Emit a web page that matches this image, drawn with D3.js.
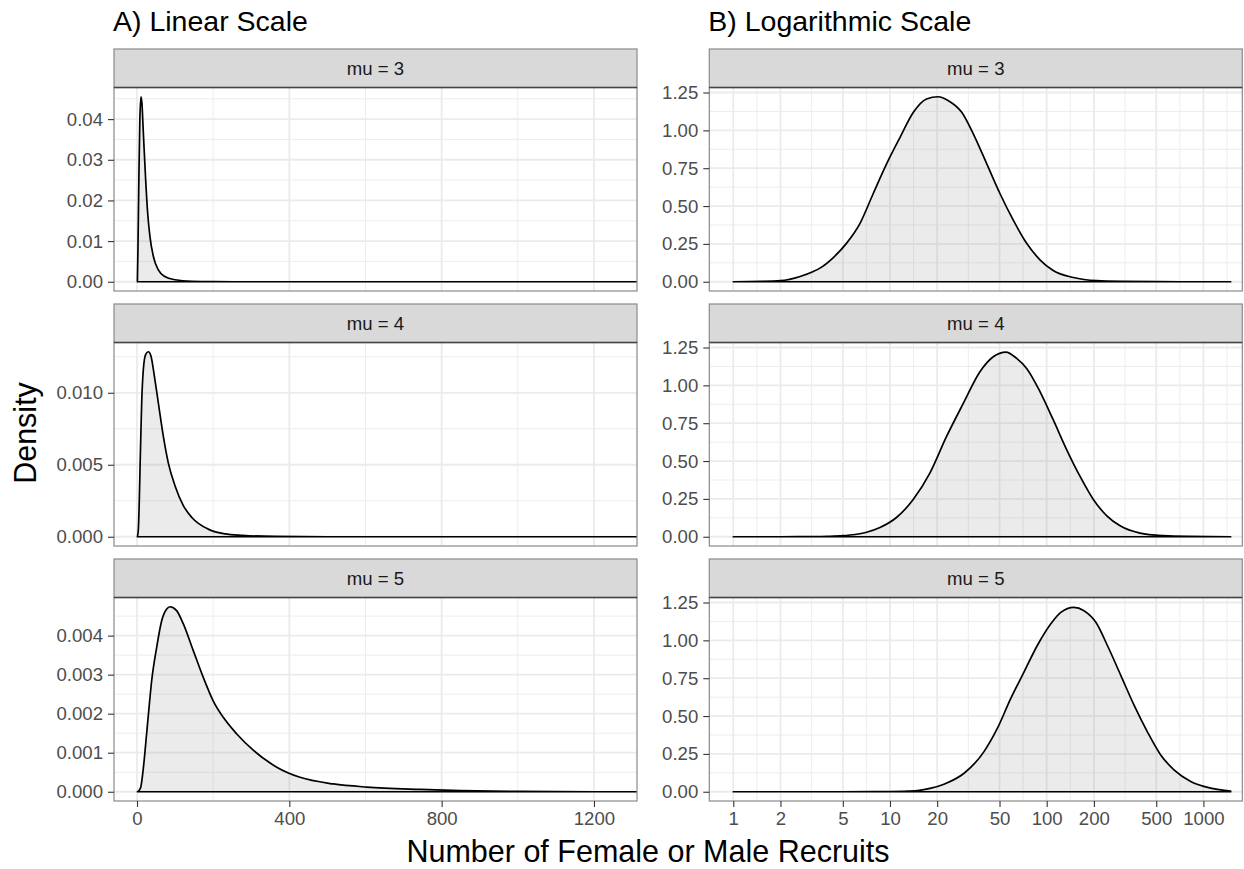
<!DOCTYPE html>
<html>
<head>
<meta charset="utf-8">
<script src="https://cdn.jsdelivr.net/npm/d3@7"></script>
<style>
  body { margin: 0; background: #fff; }
  svg { display: block; font-family: "Liberation Sans", Arial, sans-serif; }
</style>
</head>
<body>
<svg id="chart" width="1244" height="869"></svg>
<script>
// values: [recruits, density]
const linearMu3 = [[1,0],[2.5,0.008],[5,0.026],[7.5,0.04],[10.5,0.0455],[13,0.0438],[16,0.038],[18.4,0.0332],
  [22.8,0.025],[28,0.0169],[34,0.0111],[43,0.0062],[56,0.0029],[73,0.0013],[100,0.0005],[144,0.0001],
  [200,0.00002],[300,0],[1493,0]];
const linearMu4 = [[1,0],[3.5,0.0005],[6,0.0025],[7.9,0.0047],[10,0.007],[12.3,0.0093],[16.6,0.0116],
  [22.8,0.01266],[29.8,0.01285],[36.8,0.01254],[45.6,0.01116],[56,0.0093],[69,0.007],[82,0.00515],
  [100,0.00353],[122,0.00215],[144,0.00134],[187,0.00053],[231,0.0002],[277,0.0001],[364,0.00002],
  [500,0],[1493,0]];
const linearMu5 = [[1,0],[6,0.00004],[10,0.00012],[16.6,0.0006],[25.4,0.0015],[32,0.0022],[38.6,0.00285],
  [51.7,0.0037],[64.8,0.00438],[78,0.00468],[86.7,0.00474],[104,0.00464],[121.7,0.0043],[148,0.00361],
  [174,0.00293],[200,0.00233],[227,0.0019],[262,0.00148],[306,0.00106],[367,0.00063],[428,0.00037],
  [516,0.0002],[603,0.00012],[743,0.00006],[850,0.00003],[1000,0.00001],[1200,0],[1493,0]];

const logMu3 = [[1,0],[1.5,0.002],[2,0.007],[2.67,0.035],[3.24,0.068],[3.57,0.09],[4.35,0.16],[5.29,0.255],
  [6.44,0.386],[7.82,0.583],[9.53,0.78],[11.6,0.954],[14.1,1.119],[17.1,1.207],[20.3,1.222],[23.6,1.196],
  [28.7,1.119],[34,0.977],[41.4,0.78],[50.3,0.583],[61.2,0.407],[74.5,0.254],[90.6,0.145],[110,0.074],
  [148,0.028],[208,0.007],[300,0.002],[500,0.0003],[1000,0],[1493,0]];
const logMu4 = [[1,0],[2,0],[3,0.001],[4,0.003],[5,0.007],[6,0.015],[7,0.028],[8.63,0.061],[11,0.127],
  [14.1,0.248],[18,0.422],[23,0.664],[29.4,0.882],[37.5,1.09],[45.6,1.189],[55,1.22],[64.3,1.178],
  [74.5,1.112],[90.6,0.959],[110,0.773],[134,0.576],[163,0.4],[198,0.248],[242,0.138],[294,0.072],
  [394,0.024],[555,0.007],[800,0.002],[1493,0]];
const logMu5 = [[1,0],[5,0],[8,0.0003],[10,0.001],[13,0.004],[15,0.008],[18,0.022],[22.1,0.05],[29.7,0.122],
  [39.8,0.265],[48.4,0.418],[58.9,0.615],[71.6,0.79],[87.1,0.966],[106,1.108],[123,1.185],[149,1.218],
  [173,1.196],[206,1.119],[244,0.966],[297,0.769],[361,0.572],[439,0.396],[534,0.243],[649,0.145],
  [830,0.068],[1114,0.024],[1493,0.004]];

const stripLabels = ['mu = 3', 'mu = 4', 'mu = 5'];
const columnTitles = ['A) Linear Scale', 'B) Logarithmic Scale'];
const linearXTicks = [0, 400, 800, 1200];
const logXTicks = [1, 2, 5, 10, 20, 50, 100, 200, 500, 1000];
const linearYTicks = [
  [0, 0.01, 0.02, 0.03, 0.04],
  [0, 0.005, 0.01],
  [0, 0.001, 0.002, 0.003, 0.004]
];
const linearYFormats = ['.2f', '.3f', '.3f'];
const logYTicks = [0, 0.25, 0.5, 0.75, 1, 1.25];

const svg = d3.select('#chart');
const FONT_TICK = 18.6;
const STRIP_H = 38.5, PANEL_H = 203.5, ROW_STEP = 255, TOP = 49;
const cols = [
  { x0: 114, x1: 637, series: [linearMu3, linearMu4, linearMu5], log: false },
  { x0: 709.3, x1: 1242.3, series: [logMu3, logMu4, logMu5], log: true }
];

// minor breaks midway between majors (plus one step beyond each end)
const midBreaks = (vals) => {
  const out = [];
  const ext = [vals[0] - (vals[1] - vals[0]), ...vals, vals[vals.length - 1] + (vals[vals.length - 1] - vals[vals.length - 2])];
  for (let i = 1; i < ext.length; i++) out.push((ext[i] + ext[i - 1]) / 2);
  return out;
};

const logMax = d3.max([logMu3, logMu4, logMu5], s => d3.max(s, d => d[1]));

cols.forEach((col, ci) => {
  svg.append('text')
    .attr('x', col.x0 - 1)
    .attr('y', 31)
    .attr('font-size', 28.5)
    .attr('fill', '#000')
    .text(columnTitles[ci]);

  const x = col.log
    ? d3.scaleLog().domain([0.703, 1771]).range([col.x0, col.x1])
    : d3.scaleLinear().domain([-60.4, 1313]).range([col.x0, col.x1]);

  const xMajor = col.log ? logXTicks : linearXTicks;
  const xMinor = col.log
    ? midBreaks(logXTicks.map(Math.log10)).map(v => Math.pow(10, v))
    : midBreaks(linearXTicks);

  col.series.forEach((data, ri) => {
    const stripTop = TOP + ri * ROW_STEP;
    const pTop = stripTop + STRIP_H;
    const pBot = pTop + PANEL_H;
    const maxY = col.log ? logMax : d3.max(data, d => d[1]);
    const y = d3.scaleLinear().domain([-0.05 * maxY, 1.05 * maxY]).range([pBot, pTop]);
    const yMajor = col.log ? logYTicks : linearYTicks[ri];
    const yFmt = d3.format(col.log ? '.2f' : linearYFormats[ri]);
    const yMinor = midBreaks(yMajor);

    const clipId = `clip-${ci}-${ri}`;
    svg.append('clipPath').attr('id', clipId)
      .append('rect').attr('x', col.x0).attr('y', pTop)
      .attr('width', col.x1 - col.x0).attr('height', PANEL_H);

    const g = svg.append('g').attr('clip-path', `url(#${clipId})`);
    g.append('rect').attr('x', col.x0).attr('y', pTop)
      .attr('width', col.x1 - col.x0).attr('height', PANEL_H).attr('fill', '#fff');

    // grid
    g.selectAll('.ymin').data(yMinor).enter().append('line')
      .attr('x1', col.x0).attr('x2', col.x1)
      .attr('y1', d => y(d)).attr('y2', d => y(d))
      .attr('stroke', '#EBEBEB').attr('stroke-width', 0.9);
    g.selectAll('.xmin').data(xMinor).enter().append('line')
      .attr('y1', pTop).attr('y2', pBot)
      .attr('x1', d => x(d)).attr('x2', d => x(d))
      .attr('stroke', '#EBEBEB').attr('stroke-width', 0.9);
    g.selectAll('.ymaj').data(yMajor).enter().append('line')
      .attr('x1', col.x0).attr('x2', col.x1)
      .attr('y1', d => y(d)).attr('y2', d => y(d))
      .attr('stroke', '#EBEBEB').attr('stroke-width', 1.8);
    g.selectAll('.xmaj').data(xMajor).enter().append('line')
      .attr('y1', pTop).attr('y2', pBot)
      .attr('x1', d => x(d)).attr('x2', d => x(d))
      .attr('stroke', '#EBEBEB').attr('stroke-width', 1.8);

    // density polygon, outlined all round like geom_density
    const area = d3.area()
      .x(d => x(d[0]))
      .y0(y(0))
      .y1(d => y(d[1]))
      .curve(d3.curveMonotoneX);
    g.append('path')
      .datum(data)
      .attr('d', area)
      .attr('fill', '#808080').attr('fill-opacity', 0.16)
      .attr('stroke', '#000').attr('stroke-width', 1.7)
      .attr('stroke-linejoin', 'round');

    // panel border
    svg.append('rect').attr('x', col.x0).attr('y', pTop)
      .attr('width', col.x1 - col.x0).attr('height', PANEL_H)
      .attr('fill', 'none').attr('stroke', '#8a8a8a').attr('stroke-width', 1.2);

    // strip
    svg.append('rect').attr('x', col.x0).attr('y', stripTop)
      .attr('width', col.x1 - col.x0).attr('height', STRIP_H)
      .attr('fill', '#D9D9D9').attr('stroke', '#8a8a8a').attr('stroke-width', 1.2);
    svg.append('line').attr('x1', col.x0).attr('x2', col.x1)
      .attr('y1', pTop).attr('y2', pTop)
      .attr('stroke', '#444').attr('stroke-width', 1.6);
    svg.append('text')
      .attr('x', (col.x0 + col.x1) / 2)
      .attr('y', stripTop + STRIP_H / 2 + 6.6)
      .attr('text-anchor', 'middle')
      .attr('font-size', FONT_TICK)
      .attr('fill', '#1A1A1A')
      .text(stripLabels[ri]);

    // y axis
    const yAxis = d3.axisLeft(y).tickValues(yMajor).tickFormat(yFmt).tickSizeInner(6).tickSizeOuter(0).tickPadding(5);
    const ya = svg.append('g').attr('transform', `translate(${col.x0},0)`).call(yAxis);
    ya.select('.domain').remove();
    ya.selectAll('line').attr('stroke', '#333').attr('stroke-width', 1.1);
    ya.selectAll('text').attr('font-size', FONT_TICK).attr('fill', '#4D4D4D')
      .attr('font-family', '"Liberation Sans", Arial, sans-serif');

    // x axis only under the bottom row
    if (ri === col.series.length - 1) {
      const xAxis = d3.axisBottom(x).tickValues(xMajor).tickFormat(d3.format('d')).tickSizeInner(6).tickSizeOuter(0).tickPadding(5);
      const xa = svg.append('g').attr('transform', `translate(0,${pBot})`).call(xAxis);
      xa.select('.domain').remove();
      xa.selectAll('line').attr('stroke', '#333').attr('stroke-width', 1.1);
      xa.selectAll('text').attr('font-size', FONT_TICK).attr('fill', '#4D4D4D')
        .attr('font-family', '"Liberation Sans", Arial, sans-serif');
    }
  });
});

svg.append('text')
  .attr('transform', 'translate(35.5,433) rotate(-90)')
  .attr('text-anchor', 'middle')
  .attr('font-size', 30.5)
  .attr('fill', '#000')
  .text('Density');

svg.append('text')
  .attr('x', 648).attr('y', 862)
  .attr('text-anchor', 'middle')
  .attr('font-size', 30.5)
  .attr('fill', '#000')
  .text('Number of Female or Male Recruits');
</script>
</body>
</html>
